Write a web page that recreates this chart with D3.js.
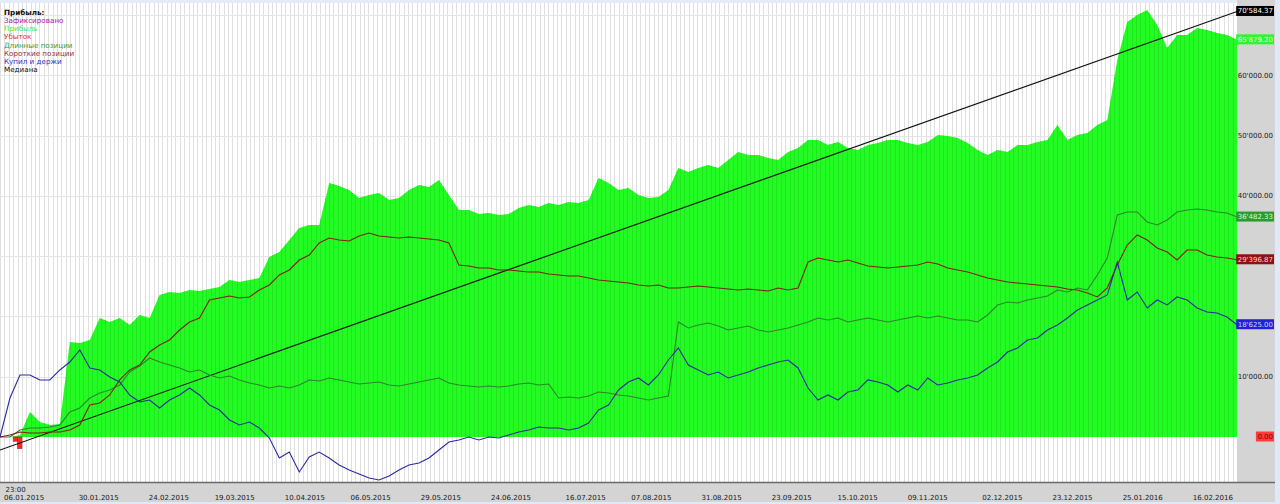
<!DOCTYPE html>
<html><head><meta charset="utf-8">
<script src="https://cdn.jsdelivr.net/npm/d3@7"></script>
<style>html,body{margin:0;padding:0;background:#fff;overflow:hidden}svg{display:block}</style>
</head><body>
<svg id="c" width="1280" height="504"></svg>
<script>
// ---------- data ----------
const legendTitle = "Прибыль:";
const legendItems = ["Зафиксировано","Прибыль","Убыток","Длинные позиции","Короткие позиции","Купил и держи","Медиана"];
const legendColors = ["#a020a0","#3ee83e","#e03030","#3a9a3a","#9a3030","#3030c0","#111111"];

const timeLabel = "23:00";
const dateLabels = ["06.01.2015","30.01.2015","24.02.2015","19.03.2015","10.04.2015","06.05.2015","29.05.2015","24.06.2015","16.07.2015","07.08.2015","31.08.2015","23.09.2015","15.10.2015","09.11.2015","02.12.2015","23.12.2015","25.01.2016","16.02.2016"];
const dateBars = [5,22,38,53,69,84,100,116,133,148,164,180,195,211,228,244,260,276];
const barCount = 282;

const yTicks = [0,10000,20000,30000,40000,50000,60000,70000];

const profit = [0,0,300,4150,2490,1990,2160,15760,15600,16090,
19740,19080,19740,18580,20240,19740,23560,24060,23890,24390,
24220,24550,24890,26050,25710,26050,26380,29860,30690,32680,
34670,35170,35170,42140,41640,40980,39650,40150,40480,39320,
39650,40980,41810,41470,42640,40150,37660,37660,37000,37160,
36830,37000,37990,38490,38160,38820,38490,38990,38820,39320,
42970,42140,40980,41310,40150,39650,39820,40980,44630,43960,
44630,45120,44630,45950,47280,46780,46780,46290,45950,47280,
47950,49270,49270,48440,48940,47950,47610,48440,48770,49270,
49270,48770,48440,48940,50100,49940,49600,48770,47610,46780,
47610,47280,48440,48440,48940,49270,51760,49270,50100,50430,
51760,52590,62540,68850,70010,70840,68350,64540,66690,66690,
67850,67520,67020,66690,65879.20];

const longPos = [0,0,1160,1490,1490,1660,1990,4150,4810,6470,
7300,7800,8630,10780,11780,13110,12440,11940,11450,10780,
11120,10290,9790,10120,9460,8960,8630,8130,8460,8130,
8630,9460,9290,9790,9460,9120,8790,8960,9120,8630,
8460,8790,9120,9460,9790,8960,8630,8460,8300,8460,
8300,8460,8790,8960,8630,8790,6470,6640,6470,6800,
7470,7300,6970,6800,6470,6140,6470,6800,19080,18080,
18580,18910,18410,17750,18080,18410,17750,17420,17750,18080,
18580,19080,19740,19410,19740,19080,19410,19740,19410,19080,
19410,19740,20070,19740,20070,19740,19410,19410,19080,20240,
21900,22400,22230,22730,23060,23390,24390,24060,24720,24390,
26880,29700,36830,37330,37330,35670,35170,36000,37330,37660,
37830,37660,37330,37160,36482.33];

const shortPos = [0,330,830,660,660,830,830,1160,1990,5310,
5640,6970,9460,11120,11940,14100,15260,16090,17750,19080,
19740,22730,23060,23390,23060,23230,24390,25220,26880,27710,
29360,30190,32180,33010,32680,32520,33350,33840,33350,33180,
33010,33180,33010,32850,32680,32180,28530,28370,28040,28040,
27710,27710,27540,27370,27370,27040,26880,26710,26710,26380,
26050,25880,25710,25550,25220,25050,25220,24720,24720,24890,
25050,24890,24720,24550,24390,24550,24390,24220,24720,24390,
24720,29030,29700,29360,29030,29360,28870,28370,28200,28040,
28200,28370,28530,29030,28700,28040,27710,27370,26880,26380,
26050,25710,25550,25380,25220,25050,24890,24550,24390,23890,
23230,24720,28530,31850,33510,32680,31360,30690,29360,31020,
31020,30190,29860,29700,29396.87];

const buyHold = [0,6470,10290,10290,9460,9460,11120,12440,14430,11450,
11120,9950,9120,6970,5810,6140,4810,6140,6970,8130,
6970,5310,4480,2820,1990,2490,1490,-170,-3480,-2490,
-5810,-3320,-2490,-3480,-4650,-5470,-6140,-6800,-7130,-6470,
-5470,-4650,-4310,-3480,-2160,-830,-500,0,-500,0,
-170,330,830,1160,1660,1490,1490,1160,1490,2320,
4480,5310,7800,9120,9790,8630,10290,12770,14770,11940,
11120,10290,10780,9790,10290,10780,11450,11940,12440,12770,
11450,8130,6140,6970,6140,7470,7800,9460,9120,8630,
7470,8630,7800,9790,8630,8960,9460,9790,10290,11450,
12440,14100,14770,16090,16420,17750,18580,19740,21070,21900,
22730,23560,29030,22730,24060,21400,22730,21900,23230,22730,
21400,20740,20570,19910,18625];

const medianEnds = [-2150, 70584.37];
const lossBarIdx = [3, 4];
const lossBarVals = [-700, -1900];
const lossLast = 0;

// ---------- layout ----------
const svg = d3.select("#c");
const plotL = 0, plotR = 1237, plotT = 3, plotB = 482;
const y = d3.scaleLinear().domain([0, 70000]).range([437, 15]);
const xS = d3.scaleLinear().domain([0, profit.length - 1]).range([plotL, plotR]);
const xB = d3.scaleBand().domain(d3.range(barCount)).range([plotL, plotR]);
const fmt = v => d3.format(",.2f")(v).replace(/,/g, "'");
const FONT = "DejaVu Sans, Verdana, sans-serif";

svg.append("rect").attr("x",0).attr("y",0).attr("width",1280).attr("height",504).attr("fill","#ffffff");
svg.append("rect").attr("x",0).attr("y",0).attr("width",1280).attr("height",plotT).attr("fill","#e4ecf6");

// vertical stripes (bar grid)
svg.append("g").selectAll("line").data(d3.range(barCount)).join("line")
  .attr("x1", i => Math.round(xB(i)) + 0.5).attr("x2", i => Math.round(xB(i)) + 0.5)
  .attr("y1", plotT).attr("y2", plotB)
  .attr("stroke", "#e0e0e0").attr("stroke-width", 1);

// horizontal grid
svg.append("g").selectAll("line").data(yTicks.filter(d => d > 0)).join("line")
  .attr("x1", plotL).attr("x2", plotR)
  .attr("y1", d => Math.round(y(d)) + 0.5).attr("y2", d => Math.round(y(d)) + 0.5)
  .attr("stroke", "#e4e4e4");

// profit histogram area
const area = d3.area().x((d,i) => xS(i)).y0(y(0)).y1(d => y(d)).curve(d3.curveLinear);
svg.append("clipPath").attr("id","pclip").append("path").attr("d", area(profit));
svg.append("path").attr("d", area(profit)).attr("fill", "#22fc22");
svg.append("g").attr("clip-path","url(#pclip)").selectAll("line").data(d3.range(barCount)).join("line")
  .attr("x1", i => Math.round(xB(i)) + 0.5).attr("x2", i => Math.round(xB(i)) + 0.5)
  .attr("y1", plotT).attr("y2", plotB)
  .attr("stroke", "#1fe61f").attr("stroke-width", 1);

// loss bars
svg.append("g").selectAll("rect").data(lossBarIdx).join("rect")
  .attr("x", i => xB(i)).attr("width", xB.bandwidth())
  .attr("y", y(0)).attr("height", (i,k) => y(lossBarVals[k]) - y(0))
  .attr("fill", "#ff2a2a").attr("stroke", "#b01010").attr("stroke-width", 0.6);

// lines
const line = d3.line().x((d,i) => xS(i)).y(d => y(d));
svg.append("line").attr("x1", plotL).attr("x2", plotR)
  .attr("y1", y(medianEnds[0])).attr("y2", y(medianEnds[1]))
  .attr("stroke", "#111").attr("stroke-width", 1.1);
svg.append("path").attr("d", line(longPos)).attr("fill","none").attr("stroke","#2c852c").attr("stroke-width",1.1);
svg.append("path").attr("d", line(shortPos)).attr("fill","none").attr("stroke","#7e2015").attr("stroke-width",1.1);
svg.append("path").attr("d", line(buyHold)).attr("fill","none").attr("stroke","#2a2aa0").attr("stroke-width",1.1);

// legend
const lg = svg.append("g").attr("font-family", FONT).attr("font-size", 7.2);
lg.append("text").attr("x", 4).attr("y", 15).attr("font-weight","bold").attr("fill","#111").text(legendTitle);
lg.selectAll("text.it").data(legendItems).join("text").attr("class","it")
  .attr("x", 4).attr("y", (d,i) => 23.2 + i * 8.1)
  .attr("fill", (d,i) => legendColors[i]).text(d => d);

// last-value boxes (defined before tick labels so covered ticks are skipped)
const boxes = [
  {v: medianEnds[1], bg: "#000000", fg: "#ffffff"},
  {v: profit[profit.length-1], bg: "#2ff52f", fg: "#ecffec"},
  {v: longPos[longPos.length-1], bg: "#2f9a2f", fg: "#d6ffd6"},
  {v: shortPos[shortPos.length-1], bg: "#8e1010", fg: "#ffd0d0"},
  {v: buyHold[buyHold.length-1], bg: "#2222d0", fg: "#d0d0ff"},
  {v: lossLast, bg: "#ff3c3c", fg: "#7a0000"}
];
const boxY = b => Math.max(y(b.v) - 0.5, 8);

// right axis panel
svg.append("rect").attr("x", plotR).attr("y", 0).attr("width", 1275 - plotR).attr("height", 504).attr("fill", "#d4d4d4");
svg.append("rect").attr("x", 1275).attr("y", 0).attr("width", 5).attr("height", 504).attr("fill", "#e0e9f5");

const visibleTicks = yTicks.filter(t => boxes.every(b => Math.abs(boxY(b) - y(t)) > 9));
const ya = svg.append("g").attr("font-family", FONT).attr("font-size", 7);
ya.selectAll("text").data(visibleTicks).join("text")
  .attr("x", 1273).attr("y", d => y(d)).attr("dy", "0.35em").attr("text-anchor","end")
  .attr("fill", "#1a1a1a").text(d => fmt(d));

// bottom axis
svg.append("rect").attr("x", 0).attr("y", plotB).attr("width", 1275).attr("height", 504 - plotB).attr("fill", "#d4d4d4");
svg.append("line").attr("x1", 0).attr("x2", 1275).attr("y1", plotB + 0.5).attr("y2", plotB + 0.5).attr("stroke", "#6a6a6a").attr("stroke-width", 1.5);
svg.append("rect").attr("x", 0).attr("y", 502).attr("width", 1280).attr("height", 2).attr("fill", "#e0e9f5");
const xa = svg.append("g").attr("font-family", FONT).attr("font-size", 7).attr("fill", "#1a1a1a");
xa.selectAll("text").data(dateLabels).join("text")
  .attr("x", (d,i) => xB(dateBars[i]) + xB.bandwidth() / 2).attr("y", 499.5)
  .attr("text-anchor", "middle").text(d => d);
xa.append("text").attr("x", 5.5).attr("y", 491.5).text(timeLabel);

const bgG = svg.append("g").attr("font-family", FONT).attr("font-size", 7);
boxes.forEach(b => {
  const cy = boxY(b);
  const g = bgG.append("g");
  const r = g.append("rect").attr("fill", b.bg);
  const t = g.append("text").attr("x", 1273).attr("y", cy).attr("dy", "0.35em")
    .attr("text-anchor", "end").attr("fill", b.fg).text(fmt(b.v));
  const w = t.node().getComputedTextLength();
  r.attr("x", 1273 - w - 1.5).attr("y", cy - 5).attr("width", w + 2.5).attr("height", 10);
});
</script>
</body></html>
